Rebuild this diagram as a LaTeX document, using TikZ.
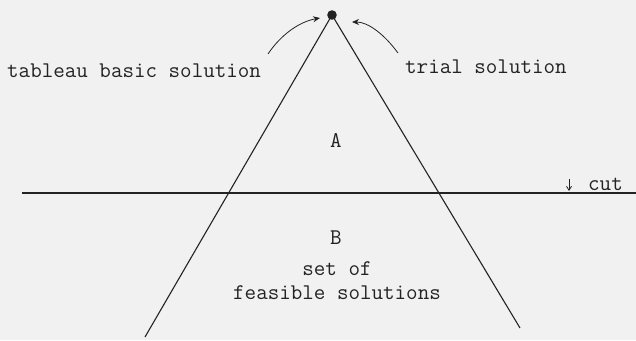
\documentclass[tikz,border=0pt]{standalone}
\usepackage{fontspec}
\usetikzlibrary{arrows.meta}
\definecolor{bg}{RGB}{241,241,241}
\definecolor{ink}{RGB}{35,35,35}
\tikzset{
  lbl/.style={font=\fontsize{22.4}{25}\selectfont\ttfamily, text=ink, inner sep=0pt, anchor=base},
  edge/.style={draw=ink, line width=1.1pt},
  pointer/.style={draw=ink, line width=0.8pt, -{Stealth[length=7pt,width=6pt]}}
}
\begin{document}
\begin{tikzpicture}[x=1pt,y=-1pt]
\fill[bg] (0,0) rectangle (636,340);
\useasboundingbox (0,0) rectangle (636,340);
% points
\coordinate (apex) at (332,15);
\coordinate (bl) at (145,337);
\coordinate (br) at (520,328);
\coordinate (cl) at (22,193);
\coordinate (cr) at (636,193);
\coordinate (la) at (268,54);
\coordinate (lt) at (320,18);
\coordinate (ra) at (398,53);
\coordinate (rt) at (352,22);
\coordinate (ca) at (569,179);
\coordinate (cb) at (569,191);
% lines
\draw[edge] (apex) -- (bl);
\draw[edge] (apex) -- (br);
\draw[edge] (cl) -- (cr);
\fill[ink] (apex) circle (4.8pt);
% pointers
\draw[pointer] (la) .. controls (280,36) and (298,22) .. (lt);
\draw[pointer] (ra) .. controls (384,34) and (368,22) .. (rt);
\draw[draw=ink, line width=0.8pt, -{Straight Barb[length=4pt,width=5pt]}] (ca) -- (cb);
% texts
\node[lbl, anchor=base west] (tbs) at (7,77) {tableau basic solution};
\node[lbl, anchor=base west] (ts) at (405,73) {trial solution};
\node[lbl] (A) at (336,147) {A};
\node[lbl] (B) at (336,244) {B};
\node[lbl] (set) at (337,275) {set of};
\node[lbl] (fs) at (337,299) {feasible solutions};
\node[lbl, anchor=base west] (cut) at (588,190) {cut};
\end{tikzpicture}
\end{document}
